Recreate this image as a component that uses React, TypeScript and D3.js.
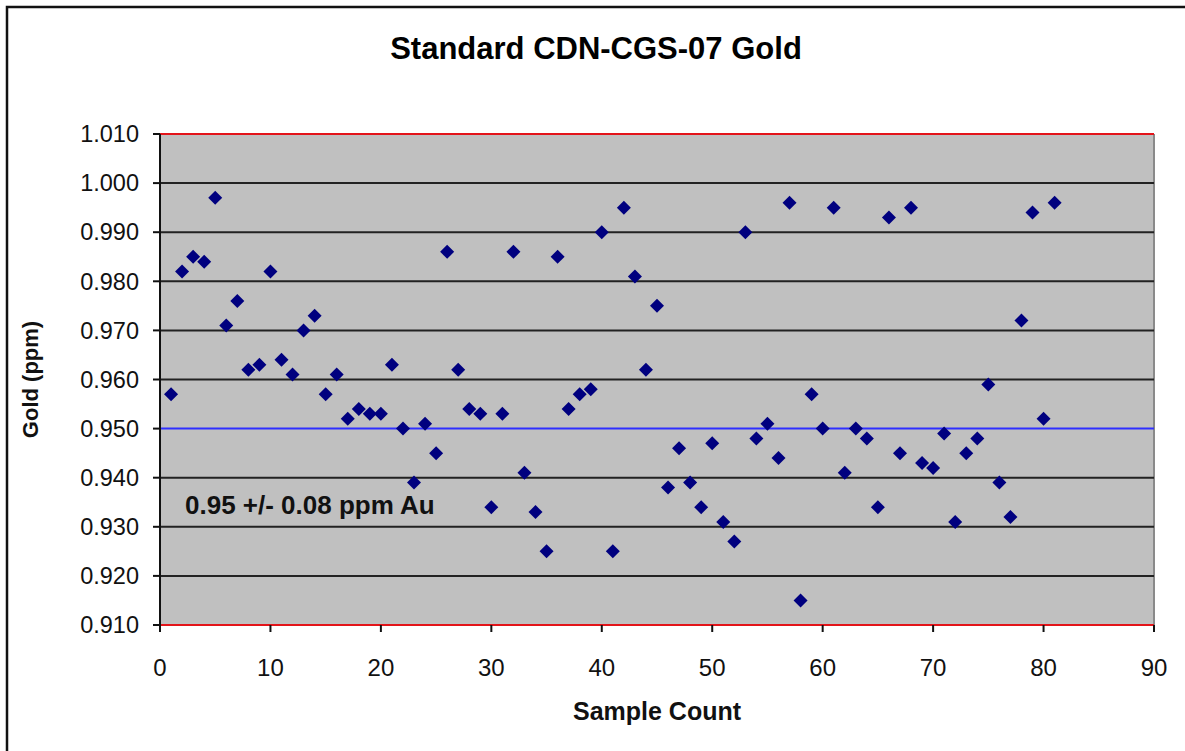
import React from "react";
import * as d3 from "d3";

// sample number -> gold value (ppm)
const samples = [
  1, 2, 3, 4, 5, 6, 7, 8, 9, 10, 11, 12, 13, 14, 15, 16, 17, 18, 19, 20,
  21, 22, 23, 24, 25, 26, 27, 28, 29, 30, 31, 32, 33, 34, 35, 36, 37, 38, 39, 40,
  41, 42, 43, 44, 45, 46, 47, 48, 49, 50, 51, 52, 53, 54, 55, 56, 57, 58, 59, 60,
  61, 62, 63, 64, 65, 66, 67, 68, 69, 70, 71, 72, 73, 74, 75, 76, 77, 78, 79, 80, 81,
];
const gold = [
  0.957, 0.982, 0.985, 0.984, 0.997, 0.971, 0.976, 0.962, 0.963, 0.982,
  0.964, 0.961, 0.970, 0.973, 0.957, 0.961, 0.952, 0.954, 0.953, 0.953,
  0.963, 0.950, 0.939, 0.951, 0.945, 0.986, 0.962, 0.954, 0.953, 0.934,
  0.953, 0.986, 0.941, 0.933, 0.925, 0.985, 0.954, 0.957, 0.958, 0.990,
  0.925, 0.995, 0.981, 0.962, 0.975, 0.938, 0.946, 0.939, 0.934, 0.947,
  0.931, 0.927, 0.990, 0.948, 0.951, 0.944, 0.996, 0.915, 0.957, 0.950,
  0.995, 0.941, 0.950, 0.948, 0.934, 0.993, 0.945, 0.995, 0.943, 0.942,
  0.949, 0.931, 0.945, 0.948, 0.959, 0.939, 0.932, 0.972, 0.994, 0.952, 0.996,
];

const xTicks = [0, 10, 20, 30, 40, 50, 60, 70, 80, 90];
const yTicks = [0.91, 0.92, 0.93, 0.94, 0.95, 0.96, 0.97, 0.98, 0.99, 1.0, 1.01];
const target = 0.95;
const limitLow = 0.91;
const limitHigh = 1.01;

const W = 1185;
const H = 751;
const FONT = "Arial, 'Liberation Sans', Helvetica, sans-serif";

export default function App() {
  const left = 160, right = 1154, top = 134, bottom = 625;
  const x = d3.scaleLinear().domain([0, 90]).range([left, right]);
  const y = d3.scaleLinear().domain([0.91, 1.01]).range([bottom, top]);
  const diamond = d3.symbol().type(d3.symbolDiamond2).size(125)();
  const fmt = d3.format(".3f");

  return (
    <svg
      width={W}
      height={H}
      style={{ position: "absolute", left: 0, top: 0, background: "#fff" }}
      fontFamily={FONT}
    >
      {/* outer frame, cut off on the right and bottom */}
      <rect x={7} y={7} width={W + 20} height={H + 20} fill="none" stroke="#111" strokeWidth={2.5} />

      <text x={596} y={59} textAnchor="middle" fontSize={31} fontWeight="bold" fill="#000">
        Standard CDN-CGS-07 Gold
      </text>

      {/* plot area */}
      <rect x={left} y={top} width={right - left} height={bottom - top} fill="#c0c0c0" />
      <line x1={right} x2={right} y1={top} y2={bottom} stroke="#8a8a8a" strokeWidth={2} />

      {/* gridlines */}
      {yTicks.filter(t => t !== limitLow && t !== limitHigh && t !== target).map(t => (
        <line key={t} x1={left} x2={right} y1={y(t)} y2={y(t)} stroke="#222" strokeWidth={2} />
      ))}
      <line x1={left} x2={right} y1={y(target)} y2={y(target)} stroke="#2f2fff" strokeWidth={2} />
      <line x1={left} x2={right} y1={y(limitHigh)} y2={y(limitHigh)} stroke="#e3141a" strokeWidth={2} />
      <line x1={left} x2={right} y1={y(limitLow)} y2={y(limitLow)} stroke="#e3141a" strokeWidth={2} />

      {/* y axis */}
      <line x1={left} x2={left} y1={top} y2={bottom} stroke="#111" strokeWidth={2} />
      {yTicks.map(t => (
        <g key={t}>
          <line x1={left - 7} x2={left} y1={y(t)} y2={y(t)} stroke="#111" strokeWidth={2} />
          <text x={139} y={y(t)} dy="0.35em" textAnchor="end" fontSize={23.5} fill="#111">
            {fmt(t)}
          </text>
        </g>
      ))}

      {/* x axis ticks */}
      {xTicks.map(t => (
        <g key={t}>
          <line x1={x(t)} x2={x(t)} y1={bottom} y2={bottom + 7} stroke="#111" strokeWidth={2} />
          <text x={x(t)} y={676} textAnchor="middle" fontSize={24} fill="#111">
            {t}
          </text>
        </g>
      ))}

      {/* points */}
      {samples.map((s, i) => (
        <path key={s} d={diamond} transform={`translate(${x(s)},${y(gold[i])})`} fill="#00007f" />
      ))}

      <text x={185} y={514} fontSize={26} fontWeight="bold" fill="#111">
        0.95 +/- 0.08 ppm Au
      </text>

      <text x={(left + right) / 2} y={720} textAnchor="middle" fontSize={25} fontWeight="bold" fill="#111">
        Sample Count
      </text>
      <text
        transform={`translate(38,${(top + bottom) / 2}) rotate(-90)`}
        textAnchor="middle"
        fontSize={22}
        fontWeight="bold"
        fill="#111"
      >
        Gold (ppm)
      </text>
    </svg>
  );
}
